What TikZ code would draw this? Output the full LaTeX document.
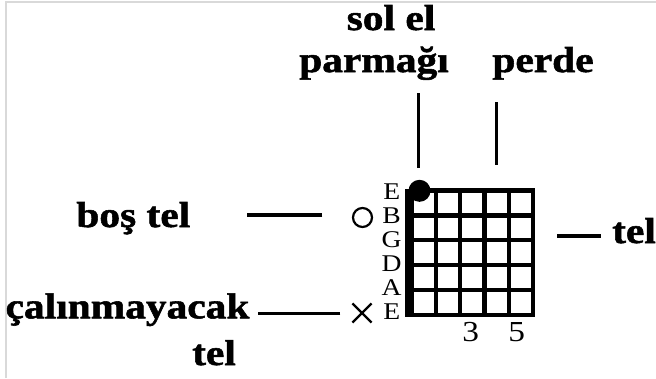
\documentclass[tikz,border=0pt]{standalone}
\usepackage{fontspec}
\setmainfont{Liberation Serif}[FakeStretch=1.15, BoldFeatures={FakeBold=1.5}]
\usetikzlibrary{shapes.misc}

\begin{document}
\begin{tikzpicture}[
x=1pt, y=-1pt,
lbl/.style={font=\fontsize{36}{40}\selectfont\bfseries, inner sep=0pt, anchor=base},
strname/.style={font=\fontsize{24}{24}\selectfont, inner sep=0pt},
fretnum/.style={font=\fontsize{29}{30}\selectfont, inner sep=0pt},
fret/.style={line width=4.2pt},
lead/.style={line width=3.5pt}
]
\useasboundingbox (0,0) rectangle (656,378);
\draw[gray!30, line width=2pt] (5.5,378) -- (5.5,1.5) -- (656,1.5);

% chord box
\fill (404.5,188.5) rectangle (413,317);
\foreach \i in {0,...,5}
  \draw[fret] (412+24.15*\i,190.5) -- (412+24.15*\i,315);
\foreach \j in {0,...,5}
  \draw[fret] (411,190.5+24.9*\j) -- (534.6,190.5+24.9*\j);
\foreach \s [count=\j from 0] in {E,B,G,D,A,E}
  \node[strname] (str\j) at (391.7,191.3+24*\j) {\s};
\node[fretnum] (fret3) at (470.8,331.7) {3};
\node[fretnum] (fret5) at (516.7,332) {5};

% marks
\node[circle, fill, minimum size=22pt, inner sep=0pt] (finger) at (419.5,190.8) {};
\node[circle, draw, line width=2.2pt, minimum size=19pt, inner sep=0pt] (open) at (362.5,217.5) {};
\node[cross out, draw, line width=2.2pt, minimum size=17pt, inner sep=0pt] (mute) at (362,313) {};

% labels
\node[lbl] (solel) at (391,30) {sol el};
\node[lbl] (parmak) at (374,72) {parmağı};
\node[lbl] (perde) at (543,72) {perde};
\node[lbl] (bos) at (133.3,227) {boş tel};
\node[lbl] (calin) at (127.5,318.3) {çalınmayacak};
\node[lbl] (calintel) at (214,365) {tel};
\node[lbl] (tel) at (634,243) {tel};

% leader lines
\draw[lead] ([shift={(-1.2,-12)}]finger.north) -- +(0,-75);
\draw[lead] ([shift={(-46.3,30)}]perde.base) -- +(0,63);
\draw[lead] ([shift={(-29.5,-2.5)}]open.west) -- +(-75,0);
\draw[lead] ([shift={(-12,0.3)}]mute.west) -- +(-82,0);
\draw[lead] ([shift={(-11,-7)}]tel.base west) -- +(-44,0);
\end{tikzpicture}
\end{document}
